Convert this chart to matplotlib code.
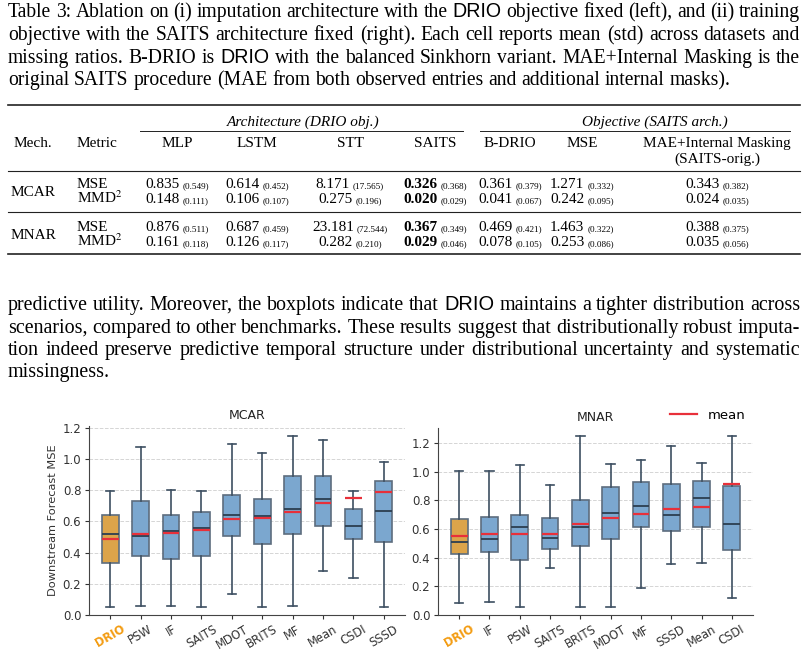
import numpy as np
import matplotlib
matplotlib.use('Agg')
import matplotlib.pyplot as plt
from matplotlib.lines import Line2D

plt.rcParams['mathtext.fontset'] = 'stix'

W, H = 808, 652
SERIF = 'Liberation Serif'
SANS = 'Liberation Sans'

# ---------------- text of the page ----------------
caption_lines = [
    "Table 3: Ablation on (i) imputation architecture with the DRIO objective fixed (left), and (ii) training",
    "objective with the SAITS architecture fixed (right). Each cell reports mean (std) across datasets and",
    "missing ratios. B-DRIO is DRIO with the balanced Sinkhorn variant. MAE+Internal Masking is the",
    "original SAITS procedure (MAE from both observed entries and additional internal masks).",
]
para_lines = [
    "predictive utility. Moreover, the boxplots indicate that DRIO maintains a tighter distribution across",
    "scenarios, compared to other benchmarks. These results suggest that distributionally robust imputa-",
    "tion indeed preserve predictive temporal structure under distributional uncertainty and systematic",
    "missingness.",
]

# ---------------- table data ----------------
table_cols = ['MLP', 'LSTM', 'STT', 'SAITS', 'B-DRIO', 'MSE', 'MAE+Internal Masking']
mcar_mse = [0.835, 0.614, 8.171, 0.326, 0.361, 1.271, 0.343]
mcar_mse_sd = [0.549, 0.452, 17.565, 0.368, 0.379, 0.332, 0.382]
mcar_mmd = [0.148, 0.106, 0.275, 0.020, 0.041, 0.242, 0.024]
mcar_mmd_sd = [0.111, 0.107, 0.196, 0.029, 0.067, 0.095, 0.035]
mnar_mse = [0.876, 0.687, 23.181, 0.367, 0.469, 1.463, 0.388]
mnar_mse_sd = [0.511, 0.459, 72.544, 0.349, 0.421, 0.322, 0.375]
mnar_mmd = [0.161, 0.126, 0.282, 0.029, 0.078, 0.253, 0.035]
mnar_mmd_sd = [0.118, 0.117, 0.210, 0.046, 0.105, 0.086, 0.056]
best_col = 3

# ---------------- boxplot data ----------------
mcar_names = ['DRIO', 'PSW', 'IF', 'SAITS', 'MDOT', 'BRITS', 'MF', 'Mean', 'CSDI', 'SSSD']
mcar_lo = [0.049, 0.056, 0.056, 0.054, 0.137, 0.054, 0.058, 0.279, 0.236, 0.051]
mcar_q1 = [0.334, 0.375, 0.358, 0.375, 0.508, 0.454, 0.521, 0.572, 0.486, 0.465]
mcar_med = [0.519, 0.508, 0.540, 0.557, 0.641, 0.632, 0.679, 0.743, 0.570, 0.664]
mcar_mean = [0.486, 0.516, 0.523, 0.542, 0.613, 0.624, 0.660, 0.716, 0.748, 0.786]
mcar_q3 = [0.639, 0.731, 0.641, 0.658, 0.767, 0.741, 0.889, 0.889, 0.679, 0.859]
mcar_hi = [0.797, 1.076, 0.801, 0.795, 1.093, 1.035, 1.146, 1.121, 0.795, 0.981]

mnar_names = ['DRIO', 'IF', 'PSW', 'SAITS', 'BRITS', 'MDOT', 'MF', 'SSSD', 'Mean', 'CSDI']
mnar_lo = [0.086, 0.091, 0.058, 0.329, 0.054, 0.054, 0.191, 0.354, 0.366, 0.117]
mnar_q1 = [0.426, 0.438, 0.384, 0.464, 0.482, 0.529, 0.615, 0.589, 0.617, 0.452]
mnar_med = [0.506, 0.531, 0.613, 0.536, 0.615, 0.715, 0.760, 0.697, 0.818, 0.634]
mnar_mean = [0.552, 0.564, 0.564, 0.566, 0.634, 0.680, 0.708, 0.739, 0.757, 0.916]
mnar_q3 = [0.669, 0.683, 0.697, 0.676, 0.804, 0.890, 0.927, 0.911, 0.932, 0.897]
mnar_hi = [1.007, 1.004, 1.044, 0.904, 1.246, 1.053, 1.081, 1.177, 1.060, 1.246]


fig = plt.figure(figsize=(8.08, 6.52), dpi=100)
renderer = fig.canvas.get_renderer()


def fx(x):
    return x / W


def fy(y):
    return 1 - y / H


def width_of(t):
    return t.get_window_extent(renderer).width


def natural_width(line, size):
    total = 0
    words = line.split(' ')
    for w in words:
        fam = SANS if w.startswith('DRIO') else SERIF
        t = fig.text(0, 0, w, fontsize=size, family=fam)
        total += width_of(t)
        t.remove()
    return total + (len(words) - 1) * size * 100 / 72 * 0.25


def fit_size(lines, base, x0, x1):
    widest = max(natural_width(ln, base) for ln in lines[:-1])
    return base * (x1 - x0) / widest


def put_line(line, x0, x1, y, size, justify=True):
    words = line.split(' ')
    texts = []
    for w in words:
        fam = SANS if w.startswith('DRIO') else SERIF
        texts.append(fig.text(0, 0, w, fontsize=size, family=fam,
                              ha='left', va='baseline'))
    widths = [width_of(t) for t in texts]
    if justify and len(texts) > 1:
        gap = (x1 - x0 - sum(widths)) / (len(texts) - 1)
    else:
        gap = size * 100 / 72 * 0.25
    x = x0
    for t, wd in zip(texts, widths):
        t.set_position((fx(x), fy(y)))
        x += wd + gap


def put_cell(xc, y, main, sd, bold=False):
    t1 = fig.text(0, 0, main, fontsize=11, family=SERIF, ha='left', va='baseline',
                  weight='bold' if bold else 'normal')
    t2 = fig.text(0, 0, '(' + sd + ')', fontsize=6.6, family=SERIF, ha='left', va='baseline')
    w1, w2 = width_of(t1), width_of(t2)
    gap = 3
    x = xc - (w1 + gap + w2) / 2
    t1.set_position((fx(x), fy(y)))
    t2.set_position((fx(x + w1 + gap), fy(y)))


def hrule(x0, x1, y, lw):
    fig.add_artist(Line2D([fx(x0), fx(x1)], [fy(y), fy(y)], transform=fig.transFigure,
                          color='#222222', lw=lw))


# caption
cap_size = min(fit_size(caption_lines, 13, 8, 800), 14.6)
cap_base = [17, 40, 63, 85]
for i, (ln, yb) in enumerate(zip(caption_lines, cap_base)):
    put_line(ln, 8, 800, yb, cap_size, justify=(i < len(caption_lines) - 1))

# table
hrule(8, 800, 105, 1.2)
hrule(140, 463, 131, 0.7)
hrule(480, 790, 131, 0.7)
hrule(8, 800, 171, 0.8)
hrule(8, 800, 212, 0.8)
hrule(8, 800, 254, 1.2)

fig.text(fx(303), fy(126), 'Architecture (DRIO obj.)', fontsize=11, family=SERIF,
         style='italic', ha='center', va='baseline')
fig.text(fx(655), fy(126), 'Objective (SAITS arch.)', fontsize=11, family=SERIF,
         style='italic', ha='center', va='baseline')

col_x = [177, 257, 350, 435, 510, 582, 717]
fig.text(fx(33), fy(147), 'Mech.', fontsize=11, family=SERIF, ha='center', va='baseline')
fig.text(fx(77), fy(147), 'Metric', fontsize=11, family=SERIF, ha='left', va='baseline')
for name, xc in zip(table_cols, col_x):
    fig.text(fx(xc), fy(147), name, fontsize=11, family=SERIF, ha='center', va='baseline')
fig.text(fx(717), fy(163), '(SAITS-orig.)', fontsize=11, family=SERIF, ha='center', va='baseline')

rows = [
    ('MCAR', 196, [(188, 'MSE', mcar_mse, mcar_mse_sd), (203, 'MMD$^2$', mcar_mmd, mcar_mmd_sd)]),
    ('MNAR', 239, [(231, 'MSE', mnar_mse, mnar_mse_sd), (246, 'MMD$^2$', mnar_mmd, mnar_mmd_sd)]),
]
for mech, ym, sub in rows:
    fig.text(fx(33), fy(ym), mech, fontsize=11, family=SERIF, ha='center', va='baseline')
    for yb, metric, vals, sds in sub:
        fig.text(fx(77), fy(yb), metric, fontsize=11, family=SERIF, ha='left', va='baseline')
        for j, (v, s) in enumerate(zip(vals, sds)):
            put_cell(col_x[j], yb, '%.3f' % v, '%.3f' % s, bold=(j == best_col))

# paragraph
para_size = min(fit_size(para_lines, 13, 8, 800), 14.6)
para_base = [310, 333, 355, 377]
for i, (ln, yb) in enumerate(zip(para_lines, para_base)):
    put_line(ln, 8, 800, yb, para_size, justify=(i < len(para_lines) - 1))

# ---------------- boxplots ----------------
BLUE = '#7ba7cf'
ORANGE = '#dca44a'
EDGE = '#5d6d7e'
DARK = '#2c3e50'
RED = '#e8303a'


def draw_panel(rect, names, lo, q1, med, mean, q3, hi, title, ymax):
    ax = fig.add_axes(rect)
    stats = []
    for i in range(len(names)):
        stats.append(dict(whislo=lo[i], q1=q1[i], med=med[i], mean=mean[i],
                          q3=q3[i], whishi=hi[i], fliers=[]))
    bp = ax.bxp(stats, positions=np.arange(len(names)), widths=0.55, patch_artist=True,
                showmeans=True, meanline=True, showfliers=False,
                boxprops=dict(edgecolor=EDGE, linewidth=1.2),
                medianprops=dict(color=DARK, linewidth=1.3),
                meanprops=dict(color=RED, linewidth=1.6, linestyle='-'),
                whiskerprops=dict(color='#3d4f61', linewidth=1.2),
                capprops=dict(color='#3d4f61', linewidth=1.2))
    for i, box in enumerate(bp['boxes']):
        box.set_facecolor(ORANGE if names[i] == 'DRIO' else BLUE)
    ax.set_xlim(-0.7, len(names) - 0.3)
    ax.set_ylim(0, ymax)
    ax.set_yticks(np.arange(0, 1.21, 0.2))
    ax.set_yticklabels(['%.1f' % v for v in np.arange(0, 1.21, 0.2)])
    ax.yaxis.grid(True, linestyle='--', color='#d5d5d5', linewidth=0.7)
    ax.set_axisbelow(True)
    for s in ['top', 'right']:
        ax.spines[s].set_visible(False)
    for s in ['left', 'bottom']:
        ax.spines[s].set_color('#444444')
    ax.tick_params(colors='#333333', labelsize=8.5, length=3, pad=2.5)
    ax.set_xticks(np.arange(len(names)))
    ax.set_xticklabels(names, rotation=30, ha='center', fontsize=8.3)
    for lab in ax.get_xticklabels():
        if lab.get_text() == 'DRIO':
            lab.set_color('#f39c12')
            lab.set_fontweight('bold')
    ax.set_title(title, fontsize=9, color='#222222', pad=5)
    return ax


ax1 = draw_panel([fx(89), fy(615), (405 - 89) / W, (615 - 426) / H],
                 mcar_names, mcar_lo, mcar_q1, mcar_med, mcar_mean, mcar_q3, mcar_hi,
                 'MCAR', 1.21)
ax1.set_ylabel('Downstream Forecast MSE', fontsize=8.2, color='#333333', labelpad=3)

ax2 = draw_panel([fx(438), fy(615), (753 - 438) / W, (615 - 428) / H],
                 mnar_names, mnar_lo, mnar_q1, mnar_med, mnar_mean, mnar_q3, mnar_hi,
                 'MNAR', 1.305)
ax2.legend(handles=[Line2D([], [], color=RED, lw=1.6, label='mean')],
           loc='lower right', bbox_to_anchor=(1.0, 0.99), frameon=False, fontsize=9.5,
           borderaxespad=0.2)

fig.savefig('out.png', dpi=100)
